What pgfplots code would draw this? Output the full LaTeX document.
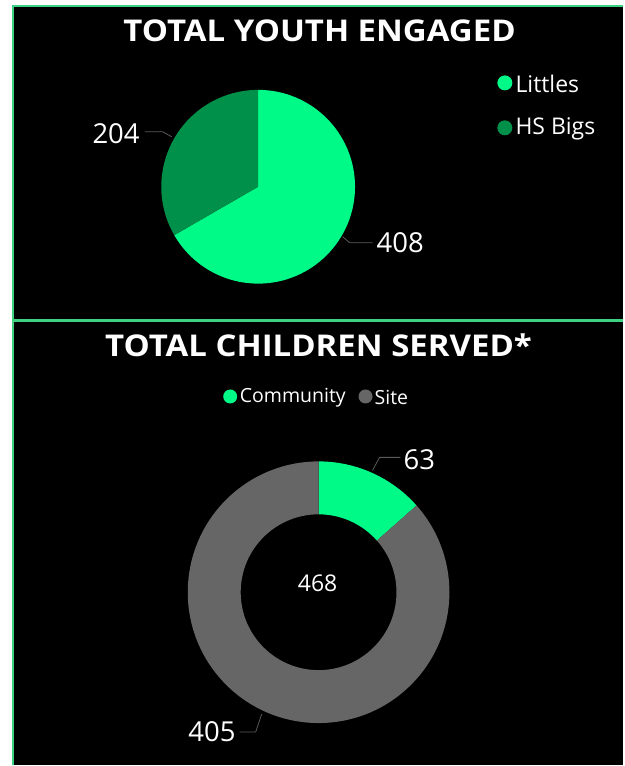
\documentclass[border=0pt]{standalone}
\usepackage{pgfplots}
\pgfplotsset{compat=1.18}
\usepackage{fontspec}
\setmainfont{Open Sans}
\definecolor{littles}{HTML}{00FA87}
\definecolor{bigs}{HTML}{019049}
\definecolor{site}{HTML}{666666}
\definecolor{frame}{HTML}{3CD282}
\definecolor{leader}{HTML}{5A5A5A}
% data
\def\vLittles{408}
\def\vBigs{204}
\def\vCommunity{63}
\def\vSite{405}
\begin{document}
\begin{tikzpicture}
\begin{axis}[
  x=1pt, y=1pt, xmin=0, xmax=624, ymin=0, ymax=766,
  hide axis, scale only axis, clip=false,
]
% background
\fill[white] (axis cs:0,0) rectangle (axis cs:624,766);
\fill[black] (axis cs:13,0) rectangle (axis cs:624,760);
\draw[frame, line width=2pt] (axis cs:13,0) -- (axis cs:13,760) -- (axis cs:624,760);
\draw[frame, line width=2.5pt] (axis cs:13,445) -- (axis cs:624,445);

% ---------- top pie ----------
\pgfmathtruncatemacro{\totA}{\vLittles+\vBigs}
\pgfmathsetmacro{\angL}{360*(\vLittles/\totA)}
\pgfmathsetmacro{\endL}{90-\angL}
\fill[littles] (axis cs:258.5,579) -- ++(90:97pt) arc[start angle=90, end angle=\endL, radius=97pt] -- cycle;
\fill[bigs] (axis cs:258.5,579) -- ++(\endL:97pt) arc[start angle=\endL+360, end angle=90, radius=97pt] -- cycle;
\node[font=\fontsize{30}{34}\selectfont\bfseries, text=white] at (axis cs:320,735) {\scalebox{1.1}[1]{TOTAL YOUTH ENGAGED}};
% labels
\draw[leader, line width=0.8pt] (axis cs:172,629) -- (axis cs:163,634) -- (axis cs:145,634);
\node[anchor=east, text=white, font=\fontsize{27.5}{30}\selectfont, inner sep=1pt] at (axis cs:141,632) {\vBigs};
\draw[leader, line width=0.8pt] (axis cs:343,529) -- (axis cs:350,523) -- (axis cs:373,523);
\node[anchor=west, text=white, font=\fontsize{27.5}{30}\selectfont, inner sep=1pt] at (axis cs:376,523) {\vLittles};
% legend
\fill[littles] (axis cs:505.5,683) circle[radius=7.5pt];
\node[anchor=west, text=white, font=\fontsize{23}{26}\selectfont, inner sep=0pt] at (axis cs:516,682) {Littles};
\fill[bigs] (axis cs:505.5,638) circle[radius=7.5pt];
\node[anchor=west, text=white, font=\fontsize{23}{26}\selectfont, inner sep=0pt] at (axis cs:516,637) {HS Bigs};

% ---------- bottom donut ----------
\pgfmathtruncatemacro{\totB}{\vCommunity+\vSite}
\pgfmathsetmacro{\angC}{360*(\vCommunity/\totB)}
\pgfmathsetmacro{\endC}{90-\angC}
\fill[littles] (axis cs:319,173) ++(90:131pt) arc[start angle=90, end angle=\endC, radius=131pt] -- ++(\endC+180:53pt) arc[start angle=\endC, end angle=90, radius=78pt] -- cycle;
\fill[site] (axis cs:319,173) ++(\endC:131pt) arc[start angle=\endC, end angle=-270, radius=131pt] -- ++(-90:53pt) arc[start angle=-270, end angle=\endC, radius=78pt] -- cycle;
\node[font=\fontsize{30}{34}\selectfont\bfseries, text=white] at (axis cs:319,420) {\scalebox{1.1}[1]{TOTAL CHILDREN SERVED*}};
\node[text=white, font=\fontsize{23}{26}\selectfont] at (axis cs:318,182) {\totB};
% labels
\draw[leader, line width=0.8pt] (axis cs:373,295) -- (axis cs:380,308) -- (axis cs:401,308);
\node[anchor=west, text=white, font=\fontsize{27.5}{30}\selectfont, inner sep=1pt] at (axis cs:403,306) {\vCommunity};
\draw[leader, line width=0.8pt] (axis cs:262,51) -- (axis cs:256,33) -- (axis cs:240,33);
\node[anchor=east, text=white, font=\fontsize{27.5}{30}\selectfont, inner sep=1pt] at (axis cs:237,33) {\vSite};
% legend
\fill[littles] (axis cs:230.5,369) circle[radius=7pt];
\node[anchor=west, text=white, font=\fontsize{19.5}{22}\selectfont, inner sep=0pt] at (axis cs:240,368) {Community};
\fill[site] (axis cs:366,369) circle[radius=7pt];
\node[anchor=west, text=white, font=\fontsize{19.5}{22}\selectfont, inner sep=0pt] at (axis cs:375,368) {Site};
\end{axis}
\end{tikzpicture}
\end{document}
